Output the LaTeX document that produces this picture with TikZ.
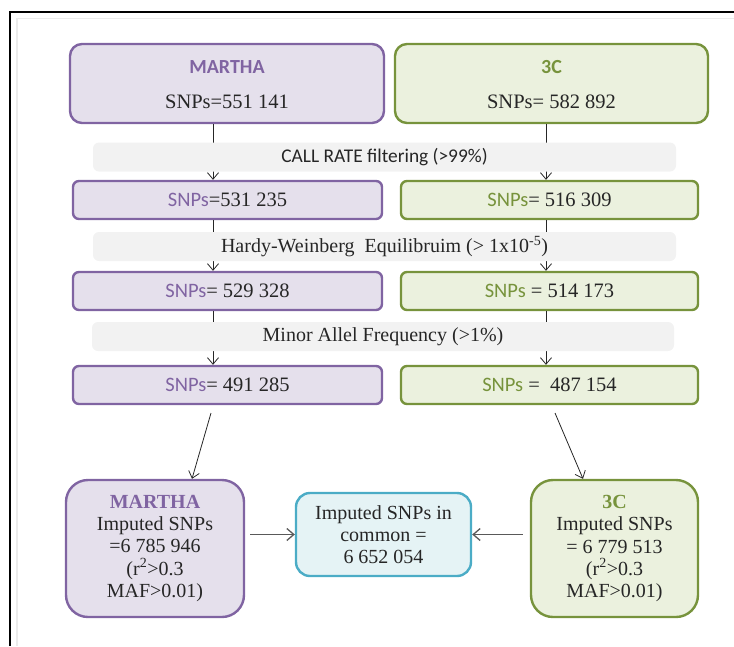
\documentclass[tikz,border=0pt]{standalone}
\usepackage{fontspec}
\setmainfont{Liberation Serif}
\newfontfamily\calib{Carlito}
\usetikzlibrary{arrows.meta,calc}

\definecolor{purpline}{HTML}{8064A2}
\definecolor{purpfill}{HTML}{E5E0EC}
\definecolor{grnline}{HTML}{77933C}
\definecolor{grnfill}{HTML}{EBF1DE}
\definecolor{cyanline}{HTML}{4BACC6}
\definecolor{cyanfill}{HTML}{E5F3F5}
\definecolor{bandfill}{HTML}{F2F2F2}
\definecolor{ink}{HTML}{262626}

\begin{document}
\begin{tikzpicture}[x=1pt,y=-1pt,
  purp/.style={draw=purpline, fill=purpfill},
  grn/.style={draw=grnline, fill=grnfill},
  panel/.style={rectangle, line width=2.4pt, inner sep=0pt, align=center, text=ink,
    font=\fontsize{20.5}{24}\selectfont},
  topbox/.style={panel, rounded corners=12pt, minimum width=313pt, minimum height=79pt},
  rowbox/.style={panel, rounded corners=6pt, minimum height=38pt},
  bigbox/.style={panel, rounded corners=22pt, minimum height=137pt,
    font=\fontsize{20}{22.3}\selectfont},
  band/.style={rectangle, fill=bandfill, rounded corners=6pt, minimum width=583pt,
    minimum height=29pt, inner sep=0pt, text=ink, font=\fontsize{20}{24}\selectfont},
  arr/.style={-{Straight Barb[length=6.5pt,width=11pt]}, line width=0.8pt, draw=black!85},
  harr/.style={-{Straight Barb[length=7pt,width=12pt]}, line width=1.3pt, draw=black!65},
  sans/.style={font=\calib\bfseries\fontsize{20}{24}\selectfont}
]
\useasboundingbox (0,0) rectangle (734,646);

% page frame
\draw[line width=1.3pt] (10,646) -- (10,12) -- (734,12);
\draw[black!8, line width=1.6pt] (17,646) -- (17,18.5) -- (734,18.5);

% column axes
\coordinate (lx) at (213,0);
\coordinate (rx) at (546,0);

% top boxes
\node[topbox, purp, minimum width=314pt] (m0) at (227,83.5) {};
\node[sans, text=purpline] (m0t) at (227,67) {MARTHA};
\node[font=\fontsize{20.5}{24}\selectfont, text=ink] (m0n) at (227,102) {SNPs=551 141};
\node[topbox, grn] (c0) at (551.5,83.5) {};
\node[sans, text=grnline] (c0t) at (551.5,67) {3C};
\node[font=\fontsize{20.5}{24}\selectfont, text=ink] (c0n) at (551.5,102) {SNPs= 582 892};

% filtered counts
\node[rowbox, purp, minimum width=309pt] (m1) at (227.5,200) {{\calib\color{purpline}SNPs}=531 235};
\node[rowbox, grn, minimum width=297pt] (c1) at (549.5,200) {{\calib\color{grnline}SNPs}= 516 309};
\node[rowbox, purp, minimum width=309pt] (m2) at (227.5,291) {{\calib\color{purpline}SNPs}= 529 328};
\node[rowbox, grn, minimum width=297pt] (c2) at (549.5,291) {{\calib\color{grnline}SNPs} = 514 173};
\node[rowbox, purp, minimum width=309pt] (m3) at (227.5,385) {{\calib\color{purpline}SNPs}= 491 285};
\node[rowbox, grn, minimum width=297pt] (c3) at (549.5,385) {{\calib\color{grnline}SNPs} =\ \ 487 154};

% imputation results
\node[bigbox, purp, minimum width=178pt] (mb) at (155,548.5)
  {{\bfseries\color{purpline}MARTHA}\\Imputed SNPs\\=6 785 946\\(r\textsuperscript{2}>0.3\\MAF>0.01)};
\node[bigbox, grn, minimum width=167pt] (cb) at (614.5,548.5)
  {{\bfseries\color{grnline}3C}\\Imputed SNPs\\= 6 779 513\\(r\textsuperscript{2}>0.3\\MAF>0.01)};
\node[panel, draw=cyanline, fill=cyanfill, rounded corners=14pt, minimum width=175pt,
  minimum height=83pt, font=\fontsize{20}{22}\selectfont] (mid) at (383.5,534.5)
  {Imputed SNPs in\\common =\\6 652 054};

% vertical flow
\draw[arr] (m0.south -| lx) -- (m1.north -| lx);
\draw[arr] (c0.south -| rx) -- (c1.north -| rx);
\draw[arr] (m1.south -| lx) -- (m2.north -| lx);
\draw[arr] (c1.south -| rx) -- (c2.north -| rx);
\draw[arr] (m2.south -| lx) -- (m3.north -| lx);
\draw[arr] (c2.south -| rx) -- (c3.north -| rx);

% towards imputation
\coordinate (dls) at (211,413);
\coordinate (dle) at (192,0);
\coordinate (drs) at (555,413);
\coordinate (dre) at (583,0);
\draw[arr] (dls) -- (mb.north -| dle);
\draw[arr] (drs) -- (cb.north -| dre);

% into the common set
\draw[harr] ($(mb.east |- mid.west)+(5,0)$) -- (mid.west);
\draw[harr] ($(cb.west |- mid.east)+(-7,0)$) -- (mid.east);

% filter bands, laid over the flow lines
\node[band, font=\calib\fontsize{19.4}{24}\selectfont] (f1) at (384.5,157) {CALL RATE filtering (>99\%)};
\node[band] (f2) at (384.5,246.5) {Hardy-Weinberg\ \ Equilibruim (> 1x10\textsuperscript{-5})};
\node[band, minimum width=582pt] (f3) at (383,336.5) {Minor Allel Frequency (>1\%)};
\end{tikzpicture}
\end{document}
